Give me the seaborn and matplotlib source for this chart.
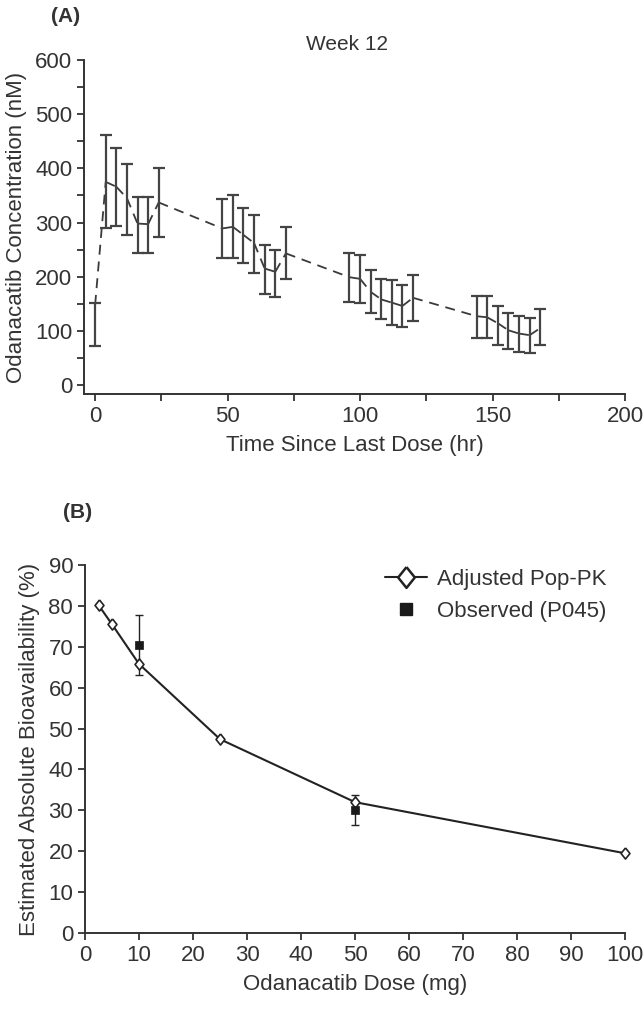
import numpy as np
import pandas as pd
import matplotlib
matplotlib.use("Agg")
import matplotlib.pyplot as plt
from matplotlib.ticker import MultipleLocator
from matplotlib.lines import Line2D
import seaborn as sns

# ---------------- Data: panel A ----------------
time_hr = [0, 4, 8, 12, 16, 20, 24, 48, 52, 56, 60, 64, 68, 72,
           96, 100, 104, 108, 112, 116, 120, 144, 148, 152, 156, 160, 164, 168]
conc_mean = [148, 375, 366, 345, 298, 297, 337, 289, 292, 277, 262, 215, 209, 243,
             199, 196, 172, 158, 152, 146, 161, 127, 125, 114, 101, 95, 92, 105]
conc_upper = [152, 462, 437, 408, 348, 348, 400, 343, 351, 326, 314, 258, 250, 292,
              244, 240, 213, 195, 193, 184, 204, 165, 165, 146, 133, 127, 123, 140]
conc_lower = [72, 289, 293, 277, 244, 244, 274, 234, 234, 226, 206, 168, 163, 195,
              154, 151, 133, 121, 111, 108, 119, 86, 86, 74, 66, 61, 60, 73]

# ---------------- Data: panel B ----------------
dose_mg = [2.5, 5, 10, 25, 50, 100]
poppk_f = [80.2, 75.5, 65.8, 47.4, 32.0, 19.5]
obs_dose = [10, 50]
obs_f = [70.4, 30.1]
obs_err = [7.4, 3.6]

panel_a_title = "Week 12"
labels = ["Adjusted Pop-PK", "Observed (P045)"]

sns.set_style("ticks")
plt.rcParams['font.family'] = ['Liberation Sans', 'DejaVu Sans']
dark = "#333333"
plt.rcParams.update({
    "text.color": dark, "axes.labelcolor": dark, "xtick.color": dark, "ytick.color": dark,
    "axes.edgecolor": dark, "axes.linewidth": 1.4,
    "xtick.major.width": 1.3, "ytick.major.width": 1.3,
    "xtick.minor.width": 1.3, "ytick.minor.width": 1.3,
    "xtick.major.size": 5, "ytick.major.size": 5,
    "xtick.minor.size": 5, "ytick.minor.size": 5,
})

fig = plt.figure(figsize=(6.44, 10.10), dpi=100)
W, H = 644, 1010

def frac_axes(x0, y_top, x1, y_bot):
    return fig.add_axes([x0 / W, 1 - y_bot / H, (x1 - x0) / W, (y_bot - y_top) / H])

fs = 16

# ---------------- Panel A ----------------
axA = frac_axes(84, 60, 625, 394)
# each segment drawn separately so the dash pattern restarts at every vertex
seg_rows = []
for i in range(len(time_hr) - 1):
    seg_rows.append({"seg": i, "t": time_hr[i], "c": conc_mean[i]})
    seg_rows.append({"seg": i, "t": time_hr[i + 1], "c": conc_mean[i + 1]})
dfA = pd.DataFrame(seg_rows)
sns.lineplot(data=dfA, x="t", y="c", units="seg", ax=axA, color="#3a3a3a", lw=1.3,
             linestyle=(0, (5.5, 3.8)), estimator=None, sort=False, legend=False)
m = np.array(conc_mean)
yerr = [m - np.array(conc_lower), np.array(conc_upper) - m]
axA.errorbar(time_hr, conc_mean, yerr=yerr, fmt="none", ecolor="#444444",
             elinewidth=1.6, capsize=4, capthick=1.6)
axA.set_xlim(-4.2, 200)
axA.set_ylim(-16.6, 600)
axA.xaxis.set_major_locator(MultipleLocator(50))
axA.xaxis.set_minor_locator(MultipleLocator(25))
axA.yaxis.set_major_locator(MultipleLocator(100))
axA.yaxis.set_minor_locator(MultipleLocator(50))
axA.tick_params(labelsize=fs, which="both")
axA.set_xlabel("Time Since Last Dose (hr)", fontsize=fs, labelpad=6)
axA.set_ylabel("Odanacatib Concentration (nM)", fontsize=fs, labelpad=6)
sns.despine(ax=axA)
fig.text(347 / W, 1 - 44 / H, panel_a_title, fontsize=15, ha="center", va="center")
fig.text(51 / W, 1 - 17 / H, "(A)", fontsize=15, fontweight="bold", ha="left", va="center")

# ---------------- Panel B ----------------
axB = frac_axes(85, 565, 625, 933)
dfB = pd.DataFrame({"dose": dose_mg, "f": poppk_f})
diamond = [(0, 1), (0.8, 0), (0, -1), (-0.8, 0), (0, 1)]
sns.lineplot(data=dfB, x="dose", y="f", ax=axB, color="#222222", lw=1.5,
             marker=diamond, markersize=8, markerfacecolor="white",
             markeredgecolor="#222222", markeredgewidth=1.2, estimator=None,
             clip_on=False, zorder=3)
axB.errorbar(obs_dose, obs_f, yerr=obs_err, fmt="none", ecolor="#222222",
             elinewidth=1.0, capsize=3, capthick=1.0, zorder=2)
dfO = pd.DataFrame({"dose": obs_dose, "f": obs_f})
sns.scatterplot(data=dfO, x="dose", y="f", ax=axB, marker="s", s=40,
                color="#1a1a1a", edgecolor="#1a1a1a", zorder=4)
axB.set_xlim(0, 100)
axB.set_ylim(0, 90)
axB.xaxis.set_major_locator(MultipleLocator(10))
axB.yaxis.set_major_locator(MultipleLocator(10))
axB.tick_params(labelsize=fs)
axB.set_xlabel("Odanacatib Dose (mg)", fontsize=fs, labelpad=6)
axB.set_ylabel("Estimated Absolute Bioavailability (%)", fontsize=fs, labelpad=6)
sns.despine(ax=axB)
fig.text(63 / W, 1 - 513 / H, "(B)", fontsize=15, fontweight="bold", ha="left", va="center")

handles = [
    Line2D([], [], color="#222222", lw=1.5, marker=diamond, markersize=15,
           markerfacecolor="white", markeredgecolor="#222222", markeredgewidth=1.8),
    Line2D([], [], color="none", marker="s", markersize=9,
           markerfacecolor="#1a1a1a", markeredgecolor="#1a1a1a"),
]
fig.legend(handles, labels, loc="upper left", bbox_to_anchor=(385 / W, 1 - 569 / H),
           frameon=False, fontsize=fs, borderpad=0, borderaxespad=0,
           handlelength=1.9, handletextpad=0.45, labelspacing=0.5)

fig.savefig("out.png", dpi=100)
